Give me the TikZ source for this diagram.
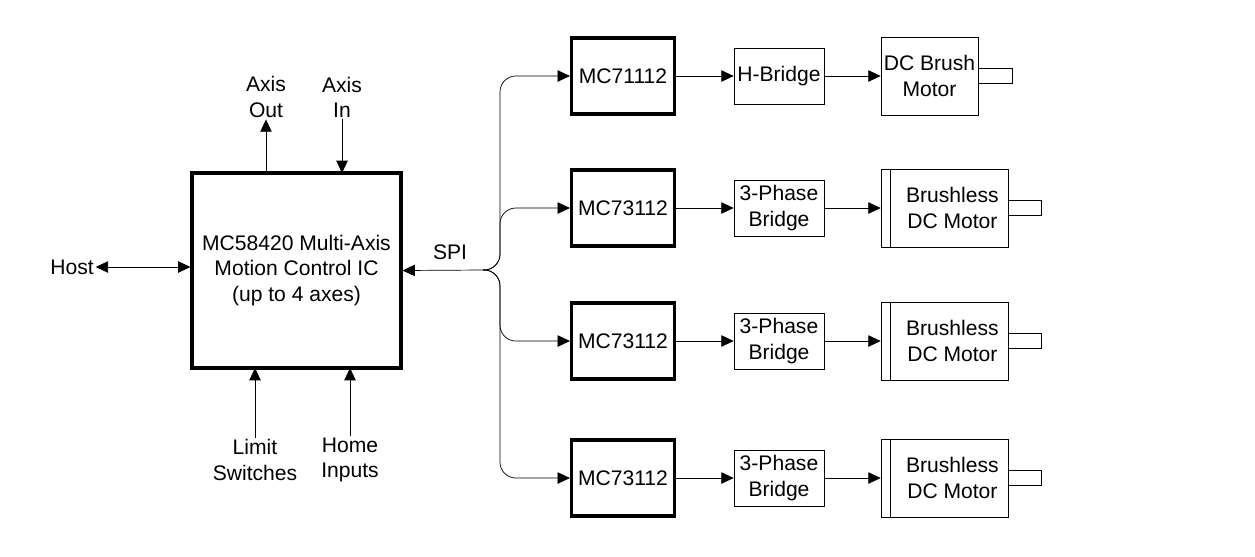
\documentclass[tikz,border=0pt]{standalone}
\usepackage{fontspec}
\setmainfont{Liberation Sans}
\usetikzlibrary{positioning,arrows.meta}

\tikzset{
	blk/.style={draw,thin,align=center,inner sep=1pt},
	ctl/.style={draw,line width=1.8pt,minimum width=2.06cm,minimum height=1.52cm},
	brg/.style={blk,minimum width=1.8cm,minimum height=1.12cm},
	arr/.style={-{Triangle[length=7pt,width=6.5pt]}},
	lbl/.style={align=center,inner sep=1pt}
}

\begin{document}
\begin{tikzpicture}[x=0.02cm,y=-0.02cm,font=\fontsize{12}{14.3}\selectfont]
	\useasboundingbox (0,0) rectangle (1255,556);

	\node[draw,line width=1.8pt,minimum width=4.18cm,minimum height=3.9cm,align=center] (ic) at (296.5,270.5)
		{MC58420 Multi-Axis\\Motion Control IC\\(up to 4 axes)};
	\node[lbl] (host) at (72,267) {Host};
	\node[lbl] (aout) at (266,97) {Axis\\Out};
	\node[lbl] (ain) at (342,97) {Axis\\In};
	\node[lbl] (lim) at (255,460) {Limit\\Switches};
	\node[lbl] (home) at (350,460) {Home\\Inputs};
	\node[lbl] (spi) at (450,252) {SPI};

	\draw[{Triangle[length=7pt,width=6.5pt]}-{Triangle[length=7pt,width=6.5pt]}] (host.east) -- (host.east -| ic.west);
	\draw[arr] (266,173) -- (aout.south);
	\draw[arr] (ain.south) -- (342,173);
	\draw[arr] (lim.north) -- (255,368);
	\draw[arr] (home.north) -- (350,368);

	\coordinate (jct) at (483,270);
	\draw[arr] (jct) -- (ic.east);

	% controller rows
	\foreach \y/\n/\chip in {76/1/MC71112,208/2/MC73112,341/3/MC73112,478/4/MC73112}{
		\node[ctl] (mc\n) at (623,\y) {\chip};
		\draw[arr,rounded corners=9pt] (jct) -| (500,\y) -- (mc\n.west);
	}

	% brush motor
	\node[brg] (br1) at (779,76) {H-Bridge};
	\node[blk,minimum width=1.94cm,minimum height=1.56cm] (mot1) at (929.5,76) {DC Brush\\Motor};
	\draw (978,68) rectangle (1012,83);
	\draw[arr] (mc1) -- (br1);
	\draw[arr] (br1) -- (mot1);

	% brushless motors
	\foreach \y/\n in {208/2,341/3,478/4}{
		\node[brg] (br\n) at (779,\y) {3-Phase\\Bridge};
		\node[blk,minimum width=2.54cm,minimum height=1.56cm] (mot\n) at (944.5,\y) {\hspace{9pt}Brushless\\\hspace{9pt}DC Motor};
		\draw (890,\y-39) -- (890,\y+39);
		\draw (1008,\y-7.5) rectangle (1041,\y+7.5);
		\draw[arr] (mc\n) -- (br\n);
		\draw[arr] (br\n) -- (mot\n);
	}
\end{tikzpicture}
\end{document}
